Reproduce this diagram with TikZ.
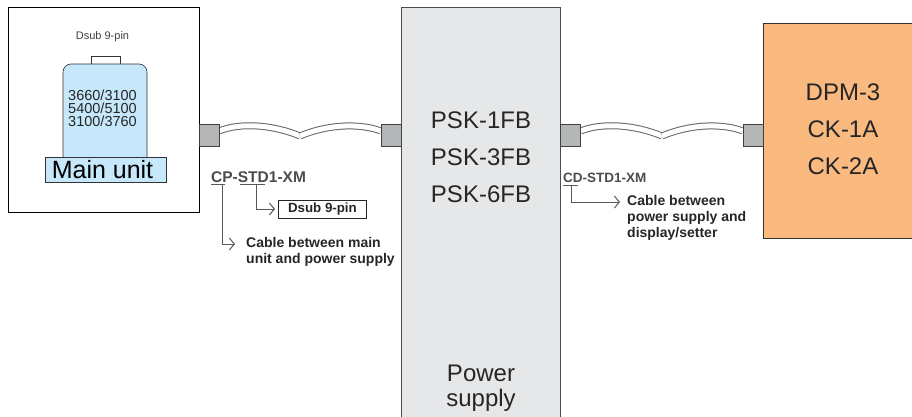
\documentclass[tikz,border=0pt]{standalone}
\usepackage{fontspec}
\setmainfont{Liberation Sans}
\usepackage{tikz}
\usetikzlibrary{arrows.meta,positioning,calc}
\definecolor{psgray}{HTML}{E6E7E9}
\definecolor{plugray}{HTML}{B5B6B8}
\definecolor{unitblue}{HTML}{C7E8FA}
\definecolor{setorange}{HTML}{F9B97F}
\begin{document}
\begin{tikzpicture}[
  x=1pt, y=-1pt, >={Straight Barb[length=5pt,width=12pt]},
  unit/.style={draw,line width=0.8pt,anchor=north west,inner sep=0pt},
  plug/.style={draw=black!75,line width=0.7pt,fill=plugray,minimum width=20pt,minimum height=22pt,inner sep=0pt},
  model/.style={font=\fontsize{24pt}{25pt}\selectfont,text=black!85},
  note/.style={font=\fontsize{14pt}{16pt}\selectfont\bfseries,text=black!85,align=left,anchor=west,inner sep=0pt},
  lead/.style={draw=black!65,line width=1pt},
  cable/.style={draw=black!60,line width=7pt},
  cablein/.style={draw=white,line width=5pt}]
\useasboundingbox (0,0) rectangle (912,417);
% blocks
\node[unit,minimum width=191pt,minimum height=205pt] (mainbox) at (8,7) {};
\node[unit,draw=black!70,fill=psgray,minimum width=159pt,minimum height=415pt] (psbox) at (401,7) {};
\node[unit,draw=black!80,fill=setorange,minimum width=150pt,minimum height=215pt] (dispbox) at (763,23) {};
% main unit
\node[draw=black!80,fill=white,minimum width=29pt,minimum height=8pt,inner sep=0pt] (dsubtab) at (105.5,60.5) {};
\draw[black!80,fill=unitblue,line width=0.6pt,rounded corners=8pt] (63,170)--(63,64)--(147,64)--(147,170)--cycle;
\node[draw=black!80,line width=0.6pt,fill=unitblue,minimum width=121pt,minimum height=25pt,inner sep=0pt,font=\fontsize{25pt}{25pt}\selectfont] (mainlab) at (105.5,169.5) {Main unit\hspace*{6pt}};
\node[font=\fontsize{11pt}{11pt}\selectfont,text=black!75] (dsubtxt) at (102.5,37) {Dsub 9-pin};
\node[font=\fontsize{14.5pt}{13pt}\selectfont,text=black!85,align=center] (mainmod) at (102.5,108) {3660/3100\\5400/5100\\3100/3760};
% power supply and display text
\node[model] (psk1) at (481,120) {PSK-1FB};
\node[model,below=13pt of psk1] (psk3) {PSK-3FB};
\node[model,below=13pt of psk3] (psk6) {PSK-6FB};
\node[model,align=center] (pslab) at (481,388) {Power\\supply};
\node[model] (dpm) at (843,92) {DPM-3};
\node[model,below=13pt of dpm] (ck1) {CK-1A};
\node[model,below=13pt of ck1] (ck2) {CK-2A};
% cables
\node[plug] (plugA) at (209,135) {};
\node[plug] (plugB) at (391,135) {};
\node[plug] (plugC) at (570.5,135) {};
\node[plug] (plugD) at (753,135) {};
\coordinate (kinkL) at (300,136);
\coordinate (kinkR) at (662,136);
\foreach \x/\y in {plugA/kinkL,kinkL/plugB,plugC/kinkR,kinkR/plugD} {
  \path[cable] (\x) .. controls ($(\x)!0.35!(\y)+(0,-13)$) and ($(\x)!0.7!(\y)+(0,-11)$) .. (\y);
  \path[cablein] (\x) .. controls ($(\x)!0.35!(\y)+(0,-13)$) and ($(\x)!0.7!(\y)+(0,-11)$) .. (\y);
}
\foreach \x in {plugA,plugB,plugC,plugD} \node[plug] at (\x) {};
% left labels
\node[font=\fontsize{15.5pt}{16pt}\selectfont\bfseries,text=black!70,anchor=west,inner sep=0pt] (cpcode) at (211,177) {CP-STD1-XM};
\node[draw=black!85,line width=0.9pt,font=\fontsize{13.3pt}{14pt}\selectfont\bfseries,text=black!85,minimum width=88pt,minimum height=18pt,inner sep=0pt,anchor=west] (dsubbox) at (278,209) {Dsub 9-pin};
\node[note] (cpnote) at (246,252) {Cable between main\\unit and power supply};
\coordinate (cpa) at (222,184);
\coordinate (cpb) at (256,184);
\draw[lead] (211,184.5) -- (225,184.5) (240,184.5) -- (265,184.5);
\draw[lead,->] (cpb) |- ([xshift=-3pt]dsubbox.west);
\draw[lead,->] (cpa) |- (235,244);
% right labels
\node[font=\fontsize{13.5pt}{14pt}\selectfont\bfseries,text=black!70,anchor=west,inner sep=0pt] (cdcode) at (563,178) {CD-STD1-XM};
\node[note] (cdnote) at (627,218) {Cable between\\power supply and\\display/setter};
\coordinate (cda) at (571,185);
\draw[lead] (563,185.5) -- (578,185.5);
\draw[lead,->] (cda) |- (620,202);
\end{tikzpicture}
\end{document}
